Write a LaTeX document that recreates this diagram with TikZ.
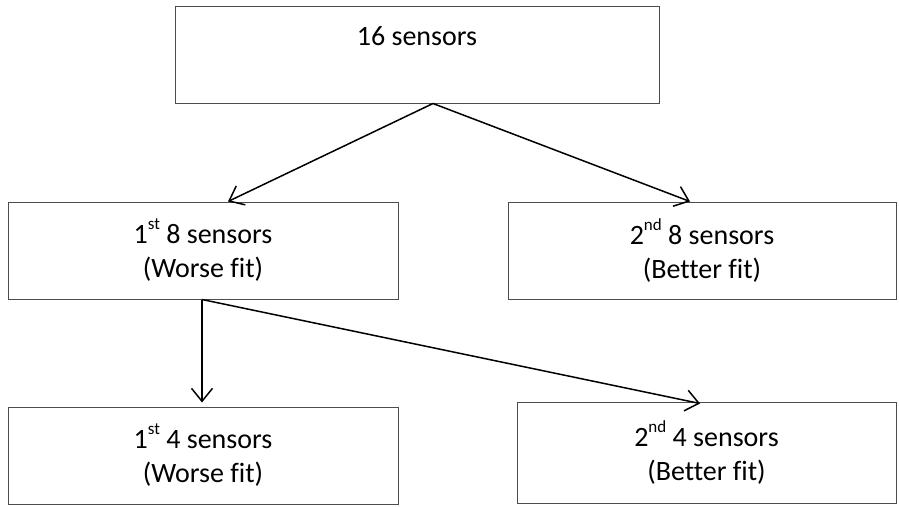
\documentclass[tikz,border=0pt]{standalone}
\usepackage{fontspec}
\setmainfont[Ligatures=NoCommon]{Carlito}
\usetikzlibrary{arrows.meta,calc}
\newcommand{\ordsup}[1]{\raisebox{0.5em}{\fontsize{17}{17}\selectfont #1}}
\begin{document}
\begin{tikzpicture}[x=1pt,y=-1pt,
  box/.style={draw=black!70,line width=1pt,rectangle,inner sep=0pt,align=center,
    font=\fontsize{28}{34}\selectfont},
  conn/.style={draw=black,line width=1.5pt,-{Straight Barb[length=13pt,width=21pt,line width=1.5pt]}},
  txt/.style={font=\fontsize{28}{34}\selectfont,inner sep=0pt}]
\useasboundingbox (0,0) rectangle (899,506);
\fill[white] (0,0) rectangle (899,506);
\node[box,minimum width=484pt,minimum height=97pt] (top) at (417,54.5) {};
\node[txt,anchor=base] (toptxt) at (417,45) {16 sensors};
\node[box,minimum width=390pt,minimum height=97pt] (ml) at (203,250.5) {1\ordsup{st} 8 sensors\\(Worse fit)};
\node[box,minimum width=388pt,minimum height=97pt] (mr) at (702,250.5) {2\ordsup{nd} 8 sensors\\(Better fit)};
\node[box,minimum width=390pt,minimum height=97pt] (bl) at (203,455.5) {1\ordsup{st} 4 sensors\\(Worse fit)};
\node[box,minimum width=379pt,minimum height=101pt] (br) at (706.5,452.5) {2\ordsup{nd} 4 sensors\\(Better fit)};
\coordinate (s1) at ($(top.south)+(16,0)$);
\coordinate (s2) at ($(ml.south)+(-1,0)$);
\draw[conn] (s1) -- ($(ml.north)+(25,0)$);
\draw[conn] (s1) -- ($(mr.north)+(-12,0)$);
\draw[conn] (s2) -- ($(bl.north)+(-1,-4)$);
\draw[conn] (s2) -- ($(br.north)+(-6.5,2)$);
\end{tikzpicture}
\end{document}
